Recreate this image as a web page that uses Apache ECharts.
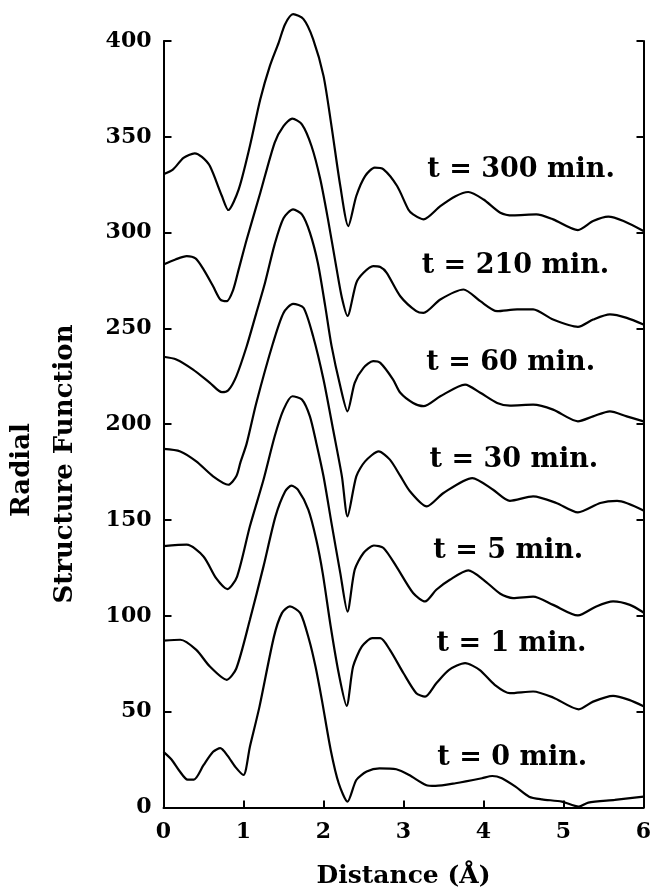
<!DOCTYPE html>
<html>
<head>
<meta charset="utf-8">
<script src="https://cdn.jsdelivr.net/npm/echarts@6/dist/echarts.min.js"></script>
<style>
html,body{margin:0;padding:0;background:#fff;}
#c{width:651px;height:892px;}
</style>
</head>
<body>
<div id="c"></div>
<script>
// ---- data (Distance in Å, Radial Structure Function) ----
const t300 = [[0,330.4],[0.12,333],[0.25,339],[0.39,341.4],[0.48,339.5],[0.58,334.7],[0.73,319.1],[0.81,311.8],[0.94,322.6],[1.08,345.2],[1.21,369.6],[1.33,387],[1.44,399.2],[1.52,408.8],[1.62,414],[1.75,411.4],[1.87,401],[2.0,381.8],[2.10,355.6],[2.21,324.3],[2.31,303.4],[2.41,319.1],[2.52,329.5],[2.64,333.9],[2.75,333],[2.92,324.3],[3.06,312.1],[3.12,309.5],[3.25,306.9],[3.46,313.8],[3.65,319],[3.81,321.2],[4.0,317.3],[4.21,310.4],[4.37,309],[4.66,309.5],[4.87,306.9],[5.18,301.3],[5.37,306],[5.56,308.3],[5.75,306],[6.0,300.8]];
const t210 = [[0,283.4],[0.15,286],[0.29,287.7],[0.4,286.5],[0.5,280.8],[0.62,272],[0.71,265.1],[0.79,264.2],[0.87,270],[0.94,280.8],[1.04,296.4],[1.21,320.8],[1.39,347],[1.50,355.6],[1.61,359.5],[1.73,356.5],[1.85,345.2],[1.96,327.8],[2.06,306],[2.16,282],[2.23,266],[2.30,256.5],[2.41,273.8],[2.50,279],[2.62,282.5],[2.71,282],[2.79,279],[2.96,266.8],[3.16,259],[3.25,258.1],[3.46,265.1],[3.75,270.3],[3.96,264.2],[4.17,259],[4.42,259.9],[4.62,259.9],[4.87,254.6],[5.18,250.8],[5.37,254.6],[5.58,257.3],[5.79,255.5],[6.0,252]];
const t60 = [[0,235.2],[0.16,233.8],[0.37,228.5],[0.58,221.6],[0.73,216.7],[0.81,217.7],[0.91,225],[1.04,240.7],[1.16,258],[1.27,274],[1.39,294],[1.50,307.5],[1.62,312.1],[1.73,309.5],[1.83,300],[1.93,284],[2.02,262],[2.10,241],[2.21,219.8],[2.30,206.7],[2.39,221.6],[2.50,229.4],[2.62,232.9],[2.71,232],[2.87,223.3],[2.96,216.4],[3.12,211.1],[3.25,209.4],[3.46,214.6],[3.77,220.7],[3.96,216.4],[4.17,211.1],[4.33,209.7],[4.62,210.2],[4.87,207.6],[5.18,201.5],[5.37,204.1],[5.58,206.7],[5.79,204.1],[6.0,201.5]];
const t30 = [[0,187.1],[0.21,185.8],[0.41,180.6],[0.62,172.8],[0.81,168.4],[0.91,172.8],[0.96,179.8],[1.04,190],[1.16,211.1],[1.37,242.5],[1.50,258.1],[1.62,262.8],[1.75,260.8],[1.87,245.9],[2.0,223.3],[2.12,197.2],[2.23,172.8],[2.30,151.9],[2.41,172.8],[2.52,180.6],[2.69,185.8],[2.83,181.5],[2.96,173],[3.08,165],[3.29,157.1],[3.50,164.1],[3.86,171.9],[4.12,165.8],[4.33,160],[4.62,162.3],[4.91,158.9],[5.18,154],[5.46,158.9],[5.67,160],[6.0,155]];
const t5 = [[0,136.4],[0.29,137.1],[0.50,131],[0.66,119.5],[0.80,113.9],[0.92,120.5],[1.08,146.7],[1.25,171],[1.39,193.7],[1.50,207.6],[1.61,214.6],[1.73,212.9],[1.83,204.1],[1.91,190.2],[2.0,172.8],[2.10,148.4],[2.21,122.3],[2.30,102.2],[2.39,124],[2.50,132.8],[2.63,136.7],[2.75,135.4],[2.91,125.8],[3.12,111.9],[3.27,107.5],[3.41,113.6],[3.58,118.8],[3.81,123.7],[4.0,118.8],[4.21,111.5],[4.37,109.2],[4.62,110],[4.87,105.7],[5.18,100.2],[5.41,104.9],[5.62,107.5],[5.83,105.7],[6.0,101.7]];
const t1 = [[0,87],[0.21,87.5],[0.41,82.2],[0.58,73.5],[0.79,66.6],[0.91,72.5],[1.08,97.9],[1.25,125.8],[1.40,151.9],[1.52,164.9],[1.60,167.9],[1.68,165.8],[1.81,155.4],[1.91,139.7],[1.99,122.3],[2.09,94.4],[2.19,70],[2.29,53],[2.37,73.5],[2.48,84],[2.61,88.3],[2.71,88.3],[2.83,82.2],[3.0,70],[3.16,59.6],[3.27,57.8],[3.41,64.8],[3.57,71.8],[3.77,75.3],[3.95,71.8],[4.14,64],[4.33,59.6],[4.62,60.5],[4.87,57.4],[5.19,51.2],[5.37,55.2],[5.62,58.2],[5.82,56.1],[6.0,52.8]];
const t0 = [[0,29],[0.1,25],[0.2,19],[0.3,14.5],[0.38,14.5],[0.5,22],[0.62,29],[0.71,30.9],[0.8,27],[0.9,21],[1.0,16.9],[1.08,31.7],[1.20,52.6],[1.38,89],[1.48,101.4],[1.58,104.9],[1.71,101.4],[1.82,87.5],[1.90,73.5],[1.98,56],[2.09,30],[2.19,12.6],[2.30,3],[2.41,14.3],[2.54,18.7],[2.70,20.4],[2.91,19.9],[3.07,16.9],[3.28,11.7],[3.40,11.2],[3.65,12.6],[3.98,15.2],[4.11,16.4],[4.23,15.2],[4.40,10.8],[4.57,5.6],[4.73,4.2],[4.98,3],[5.19,0.4],[5.31,2.5],[5.64,3.9],[6.0,5.6]];

const curveNames = ['t = 300 min.','t = 210 min.','t = 60 min.','t = 30 min.','t = 5 min.','t = 1 min.','t = 0 min.'];
const curves = [t300, t210, t60, t30, t5, t1, t0];
// label anchor (centre) in data coordinates
const labelX = [4.47, 4.40, 4.34, 4.38, 4.31, 4.35, 4.36];
const labelY = [332.5, 282.5, 231.7, 181.5, 134, 85.4, 25.8];

const xTicks = {min: 0, max: 6, interval: 1};
const yTicks = {min: 0, max: 400, interval: 50};
const xTitle = 'Distance (Å)';
const yTitleLines = ['Radial', 'Structure Function'];

const FONT = '"DejaVu Serif", serif';
const chart = echarts.init(document.getElementById('c'), null, {renderer: 'canvas'});

const series = curves.map((d, i) => ({
  type: 'line',
  name: curveNames[i],
  data: d,
  smooth: 0.25,
  showSymbol: false,
  clip: false,
  lineStyle: {color: '#000', width: 2.2},
  silent: true,
  animation: false
}));
series.push({
  type: 'scatter',
  symbolSize: 0,
  itemStyle: {opacity: 1, color: '#000'},
  data: curveNames.map((n, i) => [labelX[i], labelY[i], n]),
  label: {
    show: true, position: 'inside', formatter: p => p.value[2],
    color: '#000', opacity: 1, fontFamily: FONT, fontWeight: 'bold', fontSize: 27
  },
  silent: true,
  animation: false
});

chart.setOption({
  backgroundColor: '#fff',
  animation: false,
  grid: {left: 163.5, right: 7.5, top: 41, bottom: 84.6, containLabel: false, outerBoundsMode: 'none'},
  xAxis: {
    type: 'value', min: xTicks.min, max: xTicks.max, interval: xTicks.interval,
    name: xTitle, nameLocation: 'middle', nameGap: 57,
    nameTextStyle: {color: '#000', fontFamily: FONT, fontWeight: 'bold', fontSize: 25},
    axisLine: {show: true, lineStyle: {color: '#000', width: 2}},
    axisTick: {show: true, inside: true, length: 7, lineStyle: {color: '#000', width: 2}},
    axisLabel: {color: '#000', fontFamily: FONT, fontWeight: 'bold', fontSize: 22, margin: 14},
    splitLine: {show: false}
  },
  yAxis: [{
    type: 'value', min: yTicks.min, max: yTicks.max, interval: yTicks.interval,
    position: 'left',
    axisLine: {show: true, lineStyle: {color: '#000', width: 2}},
    axisTick: {show: true, inside: true, length: 8, lineStyle: {color: '#000', width: 2}},
    axisLabel: {color: '#000', fontFamily: FONT, fontWeight: 'bold', fontSize: 22, margin: 12},
    splitLine: {show: false}
  }, {
    type: 'value', min: yTicks.min, max: yTicks.max, interval: yTicks.interval,
    position: 'right',
    axisLine: {show: true, lineStyle: {color: '#000', width: 2}},
    axisTick: {show: true, inside: true, length: 7, lineStyle: {color: '#000', width: 2}},
    axisLabel: {show: false},
    splitLine: {show: false}
  }],
  graphic: [
    {type: 'text', x: 22, y: 470, rotation: Math.PI / 2, silent: true,
     style: {text: yTitleLines[0], fill: '#000', font: 'bold 26px ' + FONT, textAlign: 'center', textVerticalAlign: 'middle'}},
    {type: 'text', x: 65, y: 464, rotation: Math.PI / 2, silent: true,
     style: {text: yTitleLines[1], fill: '#000', font: 'bold 26px ' + FONT, textAlign: 'center', textVerticalAlign: 'middle'}}
  ],
  series: series
});
</script>
</body>
</html>
